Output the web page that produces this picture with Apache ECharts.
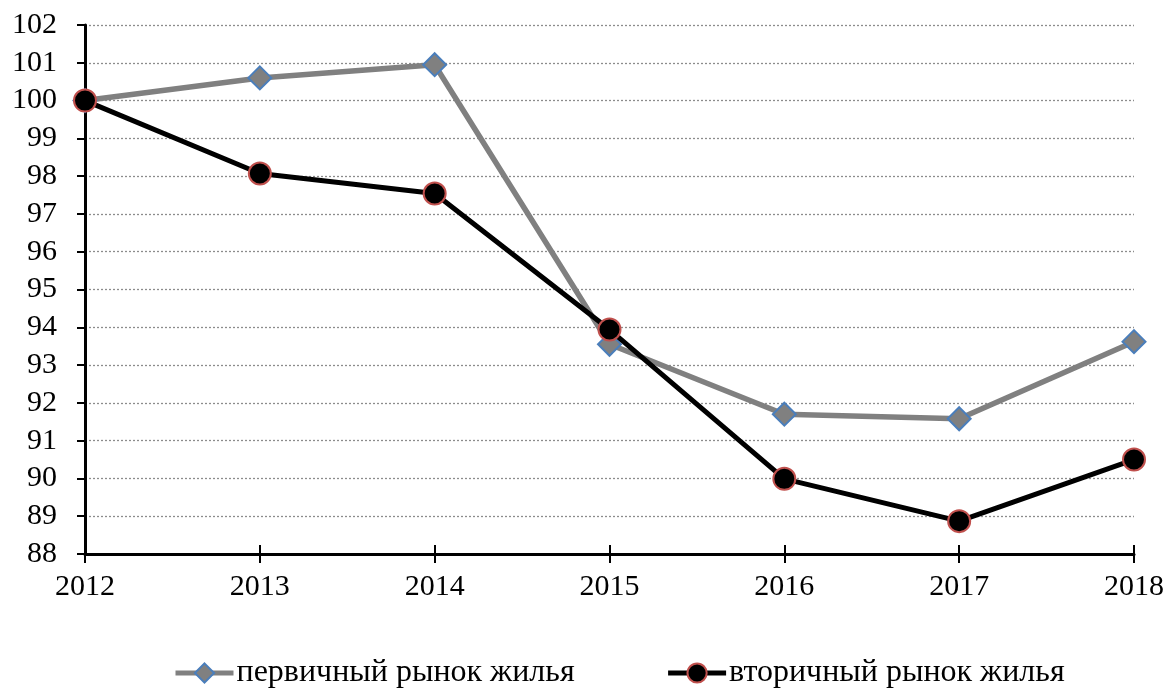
<!DOCTYPE html>
<html><head><meta charset="utf-8">
<script src="https://cdn.jsdelivr.net/npm/echarts@6/dist/echarts.min.js"></script>
<style>html,body{margin:0;padding:0;background:#fff}#c{width:1169px;height:689px}</style>
</head><body><div id="c"></div>
<script>
const categories = ['2012','2013','2014','2015','2016','2017','2018'];
const primaryName = 'первичный рынок жилья';
const secondaryName = 'вторичный рынок жилья';
const primaryValues = [100, 100.6, 100.95, 93.55, 91.7, 91.58, 93.62];
const secondaryValues = [100, 98.07, 97.54, 93.94, 89.99, 88.87, 90.5];
const yMin = 88, yMax = 102, yStep = 1;

const font = 'Liberation Serif';
const chart = echarts.init(document.getElementById('c'));
chart.setOption({
  animation: false,
  backgroundColor: '#fff',
  grid: {left: 85, right: 35, top: 25, bottom: 135, containLabel: false},
  legend: {
    top: 652, left: 168, itemGap: 91, itemWidth: 58, itemHeight: 24,
    textStyle: {fontFamily: font, fontSize: 32, color: '#000', padding: [0,0,0,-2]},
    data: [
      {name: primaryName, lineStyle: {width: 5, color: '#808080'}},
      {name: secondaryName, lineStyle: {width: 5, color: '#000'}}
    ]
  },
  xAxis: [{
    type: 'category', data: categories, boundaryGap: false,
    axisLine: {lineStyle: {color: '#000', width: 3}},
    axisTick: {show: true, length: 9, lineStyle: {color: '#000', width: 2}},
    axisLabel: {fontFamily: font, fontSize: 30, color: '#000', margin: 18},
    splitLine: {show: false}
  }, {
    type: 'category', data: categories, boundaryGap: false, position: 'bottom',
    axisLine: {show: false},
    axisTick: {show: true, inside: true, length: 9, lineStyle: {color: '#000', width: 2}},
    axisLabel: {show: false}, splitLine: {show: false}
  }],
  yAxis: {
    type: 'value', min: yMin, max: yMax, interval: yStep,
    axisLine: {show: true, lineStyle: {color: '#000', width: 3}},
    axisTick: {show: true, length: 8, lineStyle: {color: '#000', width: 2}},
    axisLabel: {fontFamily: font, fontSize: 30, color: '#000', margin: 28},
    splitLine: {show: true, lineStyle: {color: '#8c8c8c', type: [2, 2], width: 1.3}}
  },
  series: [{
    name: primaryName, type: 'line', data: primaryValues,
    symbol: 'diamond', symbolSize: 23,
    lineStyle: {color: '#808080', width: 5.5},
    itemStyle: {color: '#808080', borderColor: '#4a7ebb', borderWidth: 2},
    z: 2
  }, {
    name: secondaryName, type: 'line', data: secondaryValues,
    symbol: 'circle', symbolSize: 22,
    lineStyle: {color: '#000', width: 5},
    itemStyle: {color: '#000', borderColor: '#c0504d', borderWidth: 2},
    z: 3
  }]
});
</script></body></html>
